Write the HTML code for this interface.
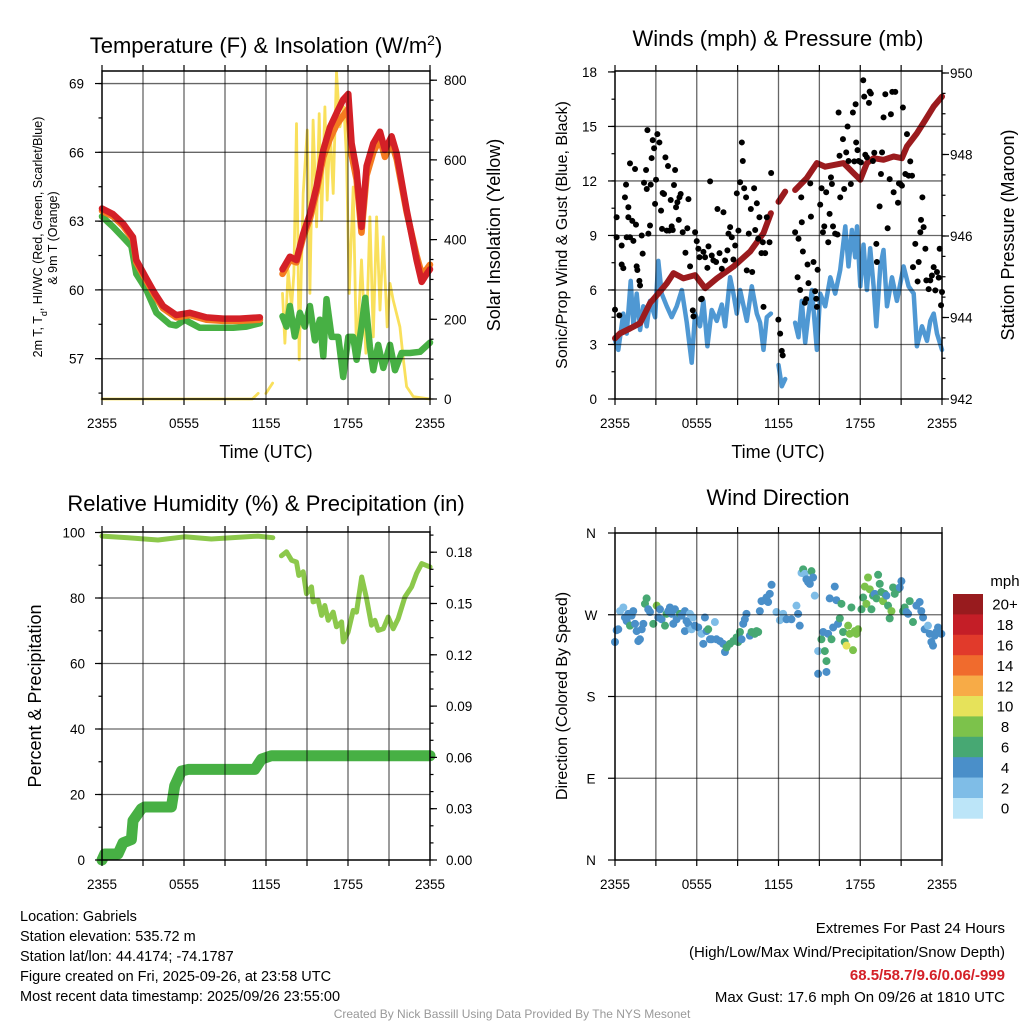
<!DOCTYPE html>
<html><head><meta charset="utf-8"><style>
html,body{margin:0;padding:0;background:#fff}
svg{display:block;font-family:"Liberation Sans",Arial,sans-serif}
</style></head><body>
<svg id="c" xmlns="http://www.w3.org/2000/svg" width="1024" height="1024" viewBox="0 0 1024 1024">
<rect width="1024" height="1024" fill="#fff"/>
<g font-size="14.5" fill="#000">
<text x="20" y="921">Location: Gabriels</text>
<text x="20" y="941">Station elevation: 535.72 m</text>
<text x="20" y="961">Station lat/lon: 44.4174; -74.1787</text>
<text x="20" y="981">Figure created on Fri, 2025-09-26, at 23:58 UTC</text>
<text x="20" y="1001">Most recent data timestamp: 2025/09/26 23:55:00</text>
</g>
<g font-size="15" text-anchor="end" fill="#000">
<text x="1005" y="933">Extremes For Past 24 Hours</text>
<text x="1005" y="957">(High/Low/Max Wind/Precipitation/Snow Depth)</text>
<text x="1005" y="980" fill="#d42027" font-weight="bold">68.5/58.7/9.6/0.06/-999</text>
<text x="1005" y="1002">Max Gust: 17.6 mph On 09/26 at 1810 UTC</text>
</g>
<text x="512" y="1018" font-size="12" fill="#999" text-anchor="middle">Created By Nick Bassill Using Data Provided By The NYS Mesonet</text>
</svg>
<script>
// ---------- Panel 1 data ----------
const redTimes=[0,0.81,1.54,2.27,2.51,3.25,3.86,4.47,5.44,6.42,7.64,8.86,10.08,11.55,12.4,13.21,13.75,14.23,14.72,15.21,15.7,16.19,16.68,17.16,17.65,18.02,18.26,18.63,18.99,19.36,19.85,20.34,20.7,21.19,21.56,22.29,23.02,23.39,23.76,24];
const redTemps=[63.55,63.3,62.9,62.3,61.3,60.5,59.85,59.3,58.9,59.0,58.8,58.75,58.75,58.8,null,60.9,61.45,61.3,62.45,63.3,64.5,66.1,67.1,67.7,68.3,68.55,66.4,65.2,62.75,65.4,66.4,66.9,66.1,66.7,65.95,63.5,61.3,60.35,60.7,60.9];
const orangeTemps=[63.45,63.2,62.8,62.2,61.2,60.4,59.75,59.2,58.8,58.9,58.7,58.65,58.65,58.7,null,60.7,61.3,61.2,62.3,63.1,64.3,65.8,66.6,67.2,67.6,67.9,65.9,64.8,62.5,65.0,66.0,66.6,65.8,66.4,65.7,63.4,61.5,60.7,60.9,61.1];
const greenTimes=[0,0.81,1.54,2.15,2.51,3.25,3.98,4.96,5.44,6.05,7.15,8.37,9.6,10.57,11.55,12.4,13.21,13.5,13.75,14.11,14.48,14.84,15.21,15.58,15.94,16.19,16.43,16.8,17.29,17.65,18.02,18.38,18.63,18.99,19.26,19.6,19.85,20.21,20.58,21.07,21.44,21.92,22.53,23.27,24];
const greenTemps=[63.2,62.75,62.3,61.9,60.7,60.0,59.0,58.5,58.45,58.7,58.35,58.35,58.35,58.4,58.55,null,58.85,58.4,59.3,57.97,59.0,58.4,59.3,57.8,58.7,57.1,59.6,57.95,57.95,56.2,57.95,57.95,56.95,58.4,59.65,57.5,56.5,57.6,56.6,57.6,56.5,57.25,57.25,57.3,57.7];
const solarTimes=[0,11.0,11.43,11.7,11.99,12.48,12.8,13.21,13.38,13.62,13.87,14.04,14.23,14.43,14.72,15.02,15.21,15.45,15.7,15.89,16.07,16.31,16.48,16.68,16.92,17.16,17.41,17.7,17.9,18.09,18.38,18.63,18.99,19.31,19.6,19.85,20.09,20.34,20.58,20.87,21.07,21.31,21.8,22.05,22.29,22.78,24];
const solarValues=[0,0,14,null,14,40,null,265,140,323,231,315,691,98,516,675,265,700,432,716,449,733,499,683,516,821,683,733,599,265,532,98,349,115,457,156,457,223,407,181,290,248,181,98,31,6,0];
// ---------- Panel 2 data ----------
const pressTimes=[0,0.37,1.1,1.84,2.57,3.18,3.8,4.29,5.02,5.88,6.61,7.47,8.69,9.92,10.9,11.44,11.7,12.0,12.49,12.9,13.22,14.08,14.82,15.43,16.04,16.78,17.51,18.0,18.49,18.98,19.71,20.45,21.06,21.43,22.16,22.78,23.39,24];
const pressValues=[943.49,943.61,943.73,943.86,944.35,944.59,944.84,945.09,944.96,945.04,944.72,944.96,945.25,945.62,946.07,946.56,null,946.84,947.09,null,947.13,947.42,947.79,947.7,947.74,947.79,947.54,947.38,947.79,947.91,947.87,947.95,947.91,948.2,948.52,948.85,949.18,949.42];
const windTimes=[0,0.24,0.61,0.86,1.15,1.35,1.59,1.84,2.08,2.33,2.57,2.94,3.18,3.43,3.8,4.16,4.53,4.9,5.27,5.63,5.88,6.24,6.49,6.78,7.1,7.47,7.84,8.08,8.45,8.69,8.94,9.18,9.67,10.04,10.41,10.65,10.9,11.14,11.44,11.7,12.0,12.24,12.49,12.8,13.22,13.47,13.71,13.96,14.2,14.45,14.82,15.06,15.43,15.8,16.16,16.53,16.9,17.14,17.39,17.63,17.76,18.0,18.24,18.49,18.73,18.98,19.18,19.47,19.71,19.96,20.33,20.69,21.18,21.55,21.92,22.16,22.53,22.9,23.14,23.39,23.63,24];
const windValues=[3.24,2.7,4.7,3.6,6.5,4.0,5.8,3.8,5.1,4.0,5.4,4.5,7.6,5.8,5.1,4.5,5.1,6.0,4.2,2.0,4.7,4.0,5.4,2.9,4.9,4.3,5.2,4.0,6.7,5.8,4.7,6.0,4.3,6.2,4.7,4.2,2.7,4.5,4.7,null,1.87,0.7,1.1,null,4.2,3.4,5.4,3.1,4.7,6.0,2.7,5.8,5.1,6.7,5.8,7.1,9.5,7.3,9.3,7.8,9.5,6.2,8.5,6.0,8.3,6.2,4.0,7.3,8.2,5.1,6.7,5.4,7.3,6.2,5.8,2.9,4.0,3.2,4.3,4.7,3.6,2.7];
const gustTimes=[0,0.12,0.12,0.32,0.49,0.49,0.61,0.73,0.81,0.86,0.98,0.98,1.1,1.1,1.27,1.35,1.47,1.54,1.59,1.64,1.79,1.84,1.96,2.03,2.13,2.28,2.33,2.38,2.45,2.57,2.62,2.69,2.77,2.87,2.94,3.01,3.11,3.26,3.38,3.45,3.5,3.6,3.7,3.8,3.89,3.99,4.09,4.16,4.24,4.33,4.41,4.48,4.58,4.68,4.73,4.82,4.97,5.17,5.31,5.39,5.51,5.71,5.76,5.88,6.0,6.12,6.2,6.32,6.37,6.49,6.61,6.78,6.86,6.98,7.1,7.22,7.42,7.52,7.67,7.84,7.96,8.08,8.25,8.33,8.45,8.57,8.69,8.82,8.94,9.06,9.18,9.31,9.38,9.48,9.62,9.67,9.82,9.97,10.07,10.21,10.29,10.41,10.51,10.6,10.75,10.85,10.9,11.02,11.14,11.34,11.46,11.99,12.12,12.24,12.31,13.22,13.47,13.4,13.59,13.67,13.71,13.79,13.93,14.03,14.13,14.2,14.33,14.38,14.57,14.69,14.77,14.82,14.87,15.06,15.16,15.26,15.36,15.5,15.65,15.75,15.85,15.92,16.0,16.16,16.33,16.41,16.48,16.53,16.73,16.82,16.97,17.07,17.14,17.31,17.46,17.56,17.66,17.7,17.8,17.88,18.05,18.22,18.29,18.37,18.49,18.64,18.69,18.78,18.93,19.03,19.18,19.22,19.42,19.52,19.6,19.71,19.84,20.01,20.16,20.25,20.35,20.45,20.57,20.77,20.84,20.94,21.06,21.13,21.31,21.43,21.55,21.67,21.8,21.87,22.04,22.21,22.29,22.41,22.46,22.56,22.65,22.78,22.85,23.02,23.14,23.26,23.39,23.51,23.63,23.76,23.83,23.93,24];
const gustValues=[4.92,10.0,8.9,4.6,8.45,7.4,7.2,11.1,11.8,8.9,10.55,10.0,12.97,8.9,9.8,8.7,12.66,9.6,7.3,7.1,6.5,6.25,9.0,8.0,11.9,12.6,11.56,14.8,9.1,9.55,11.8,13.26,14.25,13.8,10.74,12.07,14.58,14.12,10.37,9.36,11.34,11.28,13.3,9.27,12.82,9.27,10.95,9.5,9.3,11.78,12.6,10.55,10.83,9.86,11.1,11.28,9.18,8.05,9.4,11.0,7.3,4.88,4.55,9.18,8.69,8.27,7.8,5.49,5.52,8.1,7.8,7.22,8.4,11.98,7.9,7.63,7.54,10.46,8.03,7.17,10.28,7.63,8.18,9.1,9.46,8.9,7.68,8.45,11.32,9.27,11.93,14.12,13.1,11.6,11.1,7.08,9.1,10.46,6.99,11.6,9.3,10.77,8.82,10.0,8.03,8.63,5.07,8.03,10.0,8.63,12.44,4.37,3.6,2.65,2.4,9.18,8.82,6.7,6.0,11.1,9.73,8.12,5.3,5.5,7.4,6.38,11.87,10.04,7.54,5.93,5.52,5.07,7.11,10.7,11.6,9.18,9.5,11.38,8.63,10.19,12.2,11.83,9.5,9.1,9.05,15.77,13.39,11.1,14.3,11.56,13.57,15.0,13.1,11.83,15.77,13.08,16.22,14.12,13.7,13.1,13.02,17.54,16.64,13.44,13.3,16.3,16.92,16.81,13.1,13.55,8.54,7.54,10.6,12.38,13.57,15.5,16.77,9.4,12.1,15.67,16.9,11.38,16.9,10.8,11.87,11.83,11.74,16.04,12.38,14.58,12.29,13.08,12.29,7.26,8.54,6.47,7.54,9.18,9.86,11.1,9.46,8.27,6.53,6.05,6.53,6.8,7.26,5.98,6.99,6.68,8.27,5.16,5.89];
// ---------- Panel 3 data ----------
const rhTimes=[0,1.9,4.1,6.05,8.0,11.4,12.5,12.8,13.13,13.5,13.87,14.23,14.4,14.72,14.96,15.33,15.45,15.82,16.06,16.3,16.55,16.92,17.16,17.53,17.65,18.01,18.38,18.62,19.0,19.36,19.72,19.97,20.21,20.58,20.94,21.31,21.67,22.16,22.65,23.02,23.39,24];
const rhValues=[98.9,98.4,97.7,98.7,98.0,98.9,98.4,null,92.9,94.1,91.5,91.0,86.9,88,81.3,83.4,78.8,79.3,74.7,77.7,73.2,75.7,71.2,72.7,66.6,69.6,76.2,75.7,86.4,79.8,71.7,73.2,70.1,70.6,74.2,70.6,73.7,80.3,83.4,87.5,90.5,89.5];
const precipTimes=[0,0.2,1.17,1.54,2.15,2.27,2.88,3.12,5.08,5.32,5.81,6.3,11.18,11.67,12.4,24];
const precipValues=[0,0.0035,0.0035,0.01,0.012,0.023,0.03,0.031,0.031,0.0434,0.052,0.053,0.053,0.059,0.061,0.061];
// ---------- Panel 4 data ----------
const dirTimes=[0,0.12,0.24,0.37,0.61,0.73,0.86,0.98,1.1,1.22,1.34,1.47,1.59,1.71,1.83,1.96,2.08,2.2,2.32,2.44,2.57,2.81,3.06,3.18,3.3,3.42,3.67,3.79,3.91,4.03,4.15,4.28,4.4,4.52,4.77,4.89,5.13,5.13,5.25,5.38,5.5,5.62,5.74,5.87,6.11,6.35,6.48,6.6,6.72,6.84,6.97,7.09,7.33,7.45,7.7,7.94,8.07,8.19,8.43,8.68,8.92,9.04,9.17,9.29,9.41,9.53,9.65,9.9,10.02,10.26,10.39,10.51,10.63,10.75,11.0,11.12,11.24,11.36,11.49,11.85,12.1,12.34,12.59,12.95,13.32,13.44,13.56,13.69,13.81,13.93,14.05,14.17,14.3,14.42,14.54,14.66,14.91,14.91,15.15,15.28,15.4,15.52,15.52,15.64,15.76,15.89,16.01,16.13,16.25,16.37,16.5,16.62,16.74,16.86,16.99,17.11,17.23,17.35,17.47,17.6,17.72,17.84,18.09,18.21,18.33,18.45,18.57,18.7,18.82,18.94,19.06,19.19,19.31,19.43,19.55,19.67,19.8,19.92,20.04,20.16,20.29,20.41,20.53,20.77,20.9,21.02,21.14,21.26,21.39,21.51,21.63,21.87,22.12,22.36,22.48,22.61,22.73,22.97,23.1,23.22,23.34,23.46,23.59,23.71,23.95];
const dirValues=[240,253,254,274,278,267,263,271,258,269,274,260,252,241,243,254,260,282,288,276,273,260,280,267,276,265,258,271,274,278,271,260,276,265,271,269,274,252,263,260,271,254,267,258,256,249,238,267,252,254,243,243,262,243,241,238,229,234,238,241,245,240,251,243,260,265,271,247,251,249,252,251,274,285,286,289,284,293,303,273,264,271,265,265,280,271,258,316,320,315,309,306,304,318,311,291,230,205,243,251,230,219,207,249,288,243,256,301,286,260,266,282,251,240,236,258,249,278,231,252,249,254,276,289,301,282,311,298,276,291,293,288,314,304,295,285,293,291,280,266,274,300,293,298,300,307,274,278,273,271,285,262,280,284,274,267,254,258,249,240,236,247,251,256,249];
const dirSpeeds=[4,4,4,2,2,4,4,4,6,4,4,4,4,4,4,4,4,6,6,4,4,6,8,4,4,4,6,6,4,4,4,4,4,4,6,4,4,4,4,4,2,2,2,4,4,2,4,4,4,6,4,4,2,4,4,4,4,6,6,6,6,6,6,4,4,4,4,4,6,6,6,6,4,4,4,4,4,4,4,2,2,2,4,4,2,4,4,2,6,2,4,4,4,6,4,2,2,4,6,4,6,6,4,4,4,6,4,4,4,4,6,6,6,6,10,8,8,6,8,8,8,8,6,6,8,8,8,8,6,6,4,6,6,6,6,8,6,4,6,6,8,6,6,6,4,4,6,6,4,4,6,6,4,4,4,4,4,2,4,4,4,4,4,4,4];
const speedLabels=["0","2","4","6","8","10","12","14","16","18","20+"];
const speedColors=["#bce5f8","#7fbde7","#4a8fc9","#47a873","#7cc24b","#e6e25a","#f7ab47","#f06b2d","#e13a2b","#c41e27","#981b1e"];

const svg=document.getElementById('c');
const NS='http://www.w3.org/2000/svg';
function el(tag,attrs,parent){const e=document.createElementNS(NS,tag);for(const k in attrs)e.setAttribute(k,attrs[k]);(parent||svg).appendChild(e);return e;}
function txt(s,attrs,parent){const e=el('text',attrs,parent);e.textContent=s;return e;}

function makePanel(x0,x1,y0,y1){
  return {x0,x1,y0,y1,xs:h=>x0+h/24*(x1-x0)};
}
function linePath(P,ys,times,vals){
  let d='',pen=false;
  for(let i=0;i<times.length;i++){
    if(vals[i]===null){pen=false;continue;}
    const x=P.xs(times[i]).toFixed(1),y=ys(vals[i]).toFixed(1);
    d+=(pen?'L':'M')+x+' '+y+' ';pen=true;
  }
  return d;
}
function drawLine(P,ys,times,vals,color,w,name){
  const p=el('path',{d:linePath(P,ys,times,vals),fill:'none',stroke:color,'stroke-width':w,'stroke-linejoin':'round','stroke-linecap':'round'});
  
  
}
function grid(P,yvals,ys,name){
  const g=el('g',{stroke:'#000','stroke-opacity':'0.6','stroke-width':'1.3'});
  
  
  for(let h=3;h<24;h+=3)el('line',{x1:P.xs(h),x2:P.xs(h),y1:P.y0,y2:P.y1},g);
  yvals.forEach(v=>{const y=ys(v);if(y>P.y0+1&&y<P.y1-1)el('line',{x1:P.x0,x2:P.x1,y1:y,y2:y},g);});
}
function frame(P,name){
  const r=el('rect',{x:P.x0,y:P.y0,width:P.x1-P.x0,height:P.y1-P.y0,fill:'none',stroke:'#000','stroke-width':'1.5'});
  
  
  const g=el('g',{stroke:'#000','stroke-width':'1.2'});
  for(let h=0;h<=24;h+=3){const x=P.xs(h);el('line',{x1:x,x2:x,y1:P.y1,y2:P.y1+6},g);el('line',{x1:x,x2:x,y1:P.y0,y2:P.y0-6},g);}
  const labels=["2355","0555","1155","1755","2355"];
  labels.forEach((s,i)=>{const t=txt(s,{x:P.xs(i*6),y:P.y1+29,'font-size':'13.5','text-anchor':'middle'});
    
    });
}
function yAxis(P,ys,side,majors,minors,fmt,labelX,name){
  const g=el('g',{stroke:'#000','stroke-width':'1.2'});
  
  
  const xb=side==='L'?P.x0:P.x1,dir=side==='L'?-1:1;
  minors.forEach(v=>{const y=ys(v);if(y>=P.y0-0.5&&y<=P.y1+0.5)el('line',{x1:xb,x2:xb+dir*3.5,y1:y,y2:y},g);});
  majors.forEach(v=>{const y=ys(v);el('line',{x1:xb,x2:xb+dir*7,y1:y,y2:y},g);
    const t=txt(fmt(v),{x:labelX,y:y+5,'font-size':'13.5','text-anchor':side==='L'?'end':'start',stroke:'none'});
    
    });
}
function rng(a,b,s){const r=[];for(let v=a;v<=b+1e-9;v+=s)r.push(+v.toFixed(4));return r;}
function title(s,x,y,size,name,rot){
  const t=txt(s,{x:x,y:y,'font-size':size,'text-anchor':'middle',transform:rot?`rotate(-90 ${x} ${y})`:''});
  
  
  return t;
}

// ===== Panel 1 =====
const P1=makePanel(102,430,71,399);
const t1=v=>358.7-(v-57)*22.93;
const s1=w=>399-w*0.3985;
drawLine(P1,s1,solarTimes,solarValues,'#f9e05c',2.8,'insolation-line');
drawLine(P1,t1,greenTimes,greenTemps,'#47b044',6.5,'dewpoint-line');
drawLine(P1,t1,redTimes,orangeTemps,'#f47b20',6.5,'9m-temp-line');
drawLine(P1,t1,redTimes,redTemps,'#d42027',6.5,'2m-temp-line');
grid(P1,[57,60,63,66,69],t1,'temp-grid');
frame(P1,'temp-plot-frame');
yAxis(P1,t1,'L',[57,60,63,66,69],rng(55.5,69,1.5),v=>String(v),84,'temp-y-axis');
yAxis(P1,s1,'R',[0,200,400,600,800],rng(0,800,50),v=>String(v),444,'insolation-y-axis');
{const t=txt('Temperature (F) & Insolation (W/m',{x:266,y:53,'font-size':'22','text-anchor':'middle'});
 const sp=el('tspan',{'baseline-shift':'super','font-size':'14'},t);sp.textContent='2';
 const sp2=el('tspan',{},t);sp2.textContent=')';
 }
title('Time (UTC)',266,458,18,'temp-x-title');
{const t=txt('2m T, T',{x:42,y:237,'font-size':'12.5','text-anchor':'middle',transform:'rotate(-90 42 237)'});
 const sb=el('tspan',{'baseline-shift':'sub','font-size':'9'},t);sb.textContent='d';
 const r=el('tspan',{},t);r.textContent=', HI/WC (Red, Green, Scarlet/Blue)';
 }
title('& 9m T (Orange)',57,238,12.5,'temp-y-title-line2',true);
title('Solar Insolation (Yellow)',500,235,18,'insolation-y-title',true);

// ===== Panel 2 =====
const P2=makePanel(615,942,71,399);
const w2=v=>399-v*18.17;
const p2=v=>399-(v-942)*40.75;
drawLine(P2,w2,windTimes,windValues,'#4f98d3',4.5,'sonic-wind-line');
drawLine(P2,p2,pressTimes,pressValues,'#9b1b1e',6,'pressure-line');
{const g=el('g',{fill:'#000'});
 
 for(let i=0;i<gustTimes.length;i++){
   const c=el('circle',{cx:P2.xs(gustTimes[i]),cy:w2(gustValues[i]),r:3},g);
   
   
 }}
grid(P2,[3,6,9,12,15],w2,'wind-grid');
frame(P2,'wind-plot-frame');
yAxis(P2,w2,'L',[0,3,6,9,12,15,18],rng(0,18,1.5),v=>String(v),597,'wind-y-axis');
yAxis(P2,p2,'R',[942,944,946,948,950],rng(942,950,0.5),v=>String(v),950,'pressure-y-axis');
title('Winds (mph) & Pressure (mb)',778,46,22,'wind-title');
title('Time (UTC)',778,458,18,'wind-x-title');
title('Sonic/Prop Wind & Gust (Blue, Black)',567,235,16,'wind-y-title',true);
title('Station Pressure (Maroon)',1014,235,18,'pressure-y-title',true);

// ===== Panel 3 =====
const P3=makePanel(102,430,532,860);
const r3=v=>860-v*3.275;
const q3=v=>860-v*1710;
drawLine(P3,r3,rhTimes,rhValues,'#8cc84b',5,'rh-line');
drawLine(P3,q3,precipTimes,precipValues,'#47b044',11,'precip-line');
grid(P3,[20,40,60,80],r3,'rh-grid');
frame(P3,'rh-plot-frame');
yAxis(P3,r3,'L',[0,20,40,60,80,100],rng(0,100,10),v=>String(v),85,'rh-y-axis');
yAxis(P3,q3,'R',[0,0.03,0.06,0.09,0.12,0.15,0.18],rng(0,0.19,0.01),v=>v.toFixed(2),446,'precip-y-axis');
title('Relative Humidity (%) & Precipitation (in)',266,511,22,'rh-title');
title('Percent & Precipitation',41,696,18,'rh-y-title',true);

// ===== Panel 4 =====
const P4=makePanel(615,942,533,860);
const d4=v=>860-v*(327/360);
{const g=el('g',{});
 
 for(let i=0;i<dirTimes.length;i++){
   const bin=Math.min(10,Math.floor(dirSpeeds[i]/2));
   const c=el('circle',{cx:P4.xs(dirTimes[i]),cy:d4(dirValues[i]),r:4,fill:speedColors[bin]},g);
   
   
 }}
grid(P4,[90,180,270],d4,'direction-grid');
frame(P4,'direction-plot-frame');
{const dirLabels=["N","E","S","W","N"];const dirTicks=[0,90,180,270,360];
 const g=el('g',{stroke:'#000','stroke-width':'1.2'});
 
 dirTicks.forEach((v,i)=>{const y=d4(v);el('line',{x1:P4.x0,x2:P4.x0-7,y1:y,y2:y},g);
   const t=txt(dirLabels[i],{x:591,y:y+5,'font-size':'13.5','text-anchor':'middle',stroke:'none'});
   });}
title('Wind Direction',778,505,22,'direction-title');
title('Direction (Colored By Speed)',567,696,16,'direction-y-title',true);
{const g=el('g',{});
 
 const top=594,bh=20.4;
 for(let i=0;i<11;i++){
   const k=10-i;const y=top+i*bh;
   const r=el('rect',{x:953,y:y,width:30,height:bh+0.3,fill:speedColors[k]},g);
   
   const t=txt(speedLabels[k],{x:1005,y:y+bh/2+5.5,'font-size':'15','text-anchor':'middle'},g);
   
 }
 const u=txt('mph',{x:1005,y:586,'font-size':'15','text-anchor':'middle'},g);
 }
</script>
</body></html>
